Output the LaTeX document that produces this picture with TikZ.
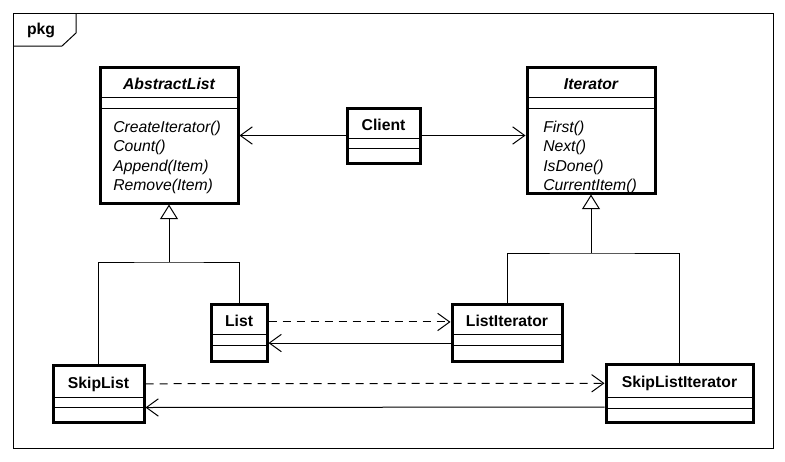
\documentclass[tikz,border=0pt]{standalone}
\usepackage{fontspec}
\setmainfont{Liberation Sans}
\usetikzlibrary{arrows.meta,fit}
% one class box: name, x1, y1, x2, y2, y of the two compartment lines
\newcommand\umlclassbox[7]{%
  \node[classbox,fit={(#2,#3)(#4,#5)}] (#1) {};
  \draw[sepline] (#2,#6) -- (#4,#6) (#2,#7) -- (#4,#7);}
\begin{document}
\begin{tikzpicture}[x=0.75pt,y=-0.75pt,
  thinline/.style={line width=0.75pt},
  classbox/.style={draw,line width=2.25pt,inner sep=0pt,fill=white},
  sepline/.style={line width=0.75pt},
  txt/.style={font=\fontsize{11.8}{14}\selectfont,inner sep=0pt},
  ctitle/.style={txt,font=\fontsize{11.8}{14}\selectfont\bfseries,anchor=base},
  atitle/.style={txt,font=\fontsize{11.8}{14}\selectfont\bfseries\itshape,anchor=base},
  op/.style={txt,font=\fontsize{11.8}{14}\selectfont\itshape,anchor=base west},
  assoc/.style={line width=0.75pt,-{Straight Barb[length=9pt,width=13pt,line width=0.75pt]}},
  dep/.style={assoc,dash pattern=on 6pt off 4.5pt},
  gen/.style={line width=0.75pt,-{Triangle[open,length=11pt,width=13.5pt,fill=white,line width=0.75pt]}}]
\useasboundingbox[fill=white] (0,0) rectangle (785,461);

% package frame with its name tab
\draw[thinline] (13,13) rectangle (773,448);
\draw[thinline] (13,46) -- (62,46) -- (76,33) -- (76,13);
\node[ctitle] (pkg) at (41,34) {pkg};

% classes
\umlclassbox{alist}{100}{67}{238}{203}{97}{108}
\node[atitle] (alistT) at (169,89) {AbstractList};
\node[op] (alist1) at (113,132) {CreateIterator()};
\node[op] (alist2) at (113,151) {Count()};
\node[op] (alist3) at (113,171) {Append(Item)};
\node[op] (alist4) at (113,190) {Remove(Item)};

\umlclassbox{iter}{527}{67}{655}{193}{97}{108}
\node[atitle] (iterT) at (591,89) {Iterator};
\node[op] (iter1) at (543,132) {First()};
\node[op] (iter2) at (543,151) {Next()};
\node[op] (iter3) at (543,171) {IsDone()};
\node[op] (iter4) at (543,190) {CurrentItem()};

\umlclassbox{client}{347}{108}{420}{163}{138}{148}
\node[ctitle] (clientT) at (383.5,130) {Client};

\umlclassbox{list}{211}{304}{267}{361}{334}{345}
\node[ctitle] (listT) at (239,326) {List};

\umlclassbox{listit}{452}{304}{562}{361}{334}{345}
\node[ctitle] (listitT) at (507,326) {ListIterator};

\umlclassbox{skiplist}{53}{365}{144}{422}{397}{407}
\node[ctitle] (skiplistT) at (98.5,388) {SkipList};

\umlclassbox{skipit}{606}{364}{753}{422}{397}{408}
\node[ctitle] (skipitT) at (679.5,387) {SkipListIterator};

% associations from the client
\draw[assoc] (client.west) -- (alist.east |- client.west);
\draw[assoc] (client.east) -- (iter.west |- client.east);

% generalization trees
\coordinate (aj) at (169,262);
\draw[thinline] (skiplist.north) |- (aj) -| (list.north);
\draw[gen] (aj) -- (alist.south);
\coordinate (ij) at (591,253);
\draw[thinline] (listit.north) |- (ij) -| (skipit.north);
\draw[gen] (ij) -- (iter.south);

% creation dependencies and back references
\draw[dep] ([yshift=7.9pt]list.east) -- ([yshift=7.9pt]listit.west);
\draw[assoc] ([yshift=-7.9pt]listit.west) -- ([yshift=-7.9pt]list.east);
\draw[dep] ([yshift=7.3pt]skiplist.east) -- ([yshift=7.3pt]skipit.west);
\draw[assoc] ([yshift=-10.5pt]skipit.west) -- ([yshift=-10.5pt]skiplist.east);
\end{tikzpicture}
\end{document}
